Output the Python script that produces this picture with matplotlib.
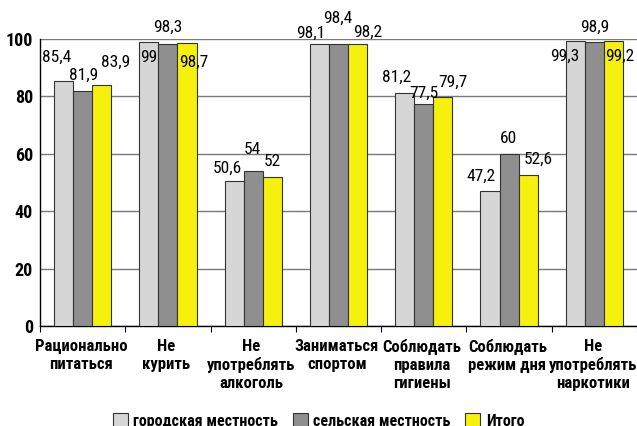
import matplotlib
matplotlib.use("Agg")
import matplotlib.pyplot as plt
from matplotlib.patches import Patch
import numpy as np

categories = [
    "Рационально\nпитаться",
    "Не\nкурить",
    "Не\nупотреблять\nалкоголь",
    "Заниматься\nспортом",
    "Соблюдать\nправила\nгигиены",
    "Соблюдать\nрежим дня",
    "Не\nупотреблять\nнаркотики",
]
series_names = ["городская местность", "сельская местность", "Итого"]
urban = [85.4, 99.0, 50.6, 98.1, 81.2, 47.2, 99.3]
rural = [81.9, 98.3, 54.0, 98.4, 77.5, 60.0, 98.9]
total = [83.9, 98.7, 52.0, 98.2, 79.7, 52.6, 99.2]
y_ticks = [0, 20, 40, 60, 80, 100]

# label nudges in pixels (dx, dy above the bar top), one row per series
label_shift = [
    [(-7, 19), (0, -20), (-7, 8), (-9, 7), (-8, 11), (-9, 10), (-11, -20)],
    [(1, 11), (0, 12), (-1, 17), (-1, 21), (0, 6), (-1, 11), (0, 10)],
    [(14, 18), (7, -24), (0, 11), (10, 7), (10, 10), (10, 11), (6, -20)],
]

colors = ["#d6d6d6", "#8f8f8f", "#f5f00c"]
plt.rcParams["font.family"] = ["Roboto Condensed", "DejaVu Sans"]

W, H = 637, 426
fig = plt.figure(figsize=(W / 100, H / 100), dpi=100)
ax = fig.add_axes([40 / W, (H - 326) / H, 597 / W, 287 / H])

n = len(categories)
x = np.arange(n)
bw = 0.224
data = [urban, rural, total]
for i, (vals, c) in enumerate(zip(data, colors)):
    pos = x + (i - 1) * bw
    bars = ax.bar(pos, vals, width=bw, color=c, edgecolor="#333333",
                  linewidth=0.8, zorder=3)
    for j, (b, v) in enumerate(zip(bars, vals)):
        dx, dy = label_shift[i][j]
        txt = f"{v:g}".replace(".", ",")
        ax.annotate(txt, (b.get_x() + b.get_width() / 2, v),
                    xytext=(dx, dy - 3), textcoords="offset pixels",
                    ha="center", va="bottom", fontsize=12.5,
                    annotation_clip=False, zorder=5)

ax.set_xlim(-0.5, n - 0.5)
ax.set_ylim(0, 100)
ax.set_yticks(y_ticks)
ax.set_yticklabels([str(t) for t in y_ticks], fontsize=13,
                   fontweight="bold")
ax.tick_params(axis="y", length=0, pad=5)
ax.yaxis.grid(True, color="#7a7a7a", linewidth=1.0, zorder=0)
ax.set_axisbelow(True)

# category boundary ticks along the baseline
ax.set_xticks(np.arange(n + 1) - 0.5)
ax.set_xticklabels([])
ax.tick_params(axis="x", length=4, width=0.8, direction="out", color="black")
for k, cat in enumerate(categories):
    ax.text(k - 0.02, -4.6, cat, ha="center", va="top", fontsize=12,
            fontweight="bold", linespacing=1.22,
            transform=ax.transData)

for s in ["top", "right"]:
    ax.spines[s].set_visible(False)
ax.spines["left"].set_color("black")
ax.spines["bottom"].set_color("black")
ax.spines["left"].set_linewidth(1.0)
ax.spines["bottom"].set_linewidth(1.0)

handles = [Patch(facecolor=c, edgecolor="#333333", linewidth=0.8)
           for c in colors]
leg = fig.legend(handles, series_names, loc="center",
                 bbox_to_anchor=(0.5, 5 / H), ncol=3, frameon=False,
                 handlelength=0.95, handleheight=1.0, handletextpad=0.35,
                 columnspacing=0.9,
                 prop=dict(size=11.5, weight="bold"))

fig.savefig("out.png", dpi=100)
